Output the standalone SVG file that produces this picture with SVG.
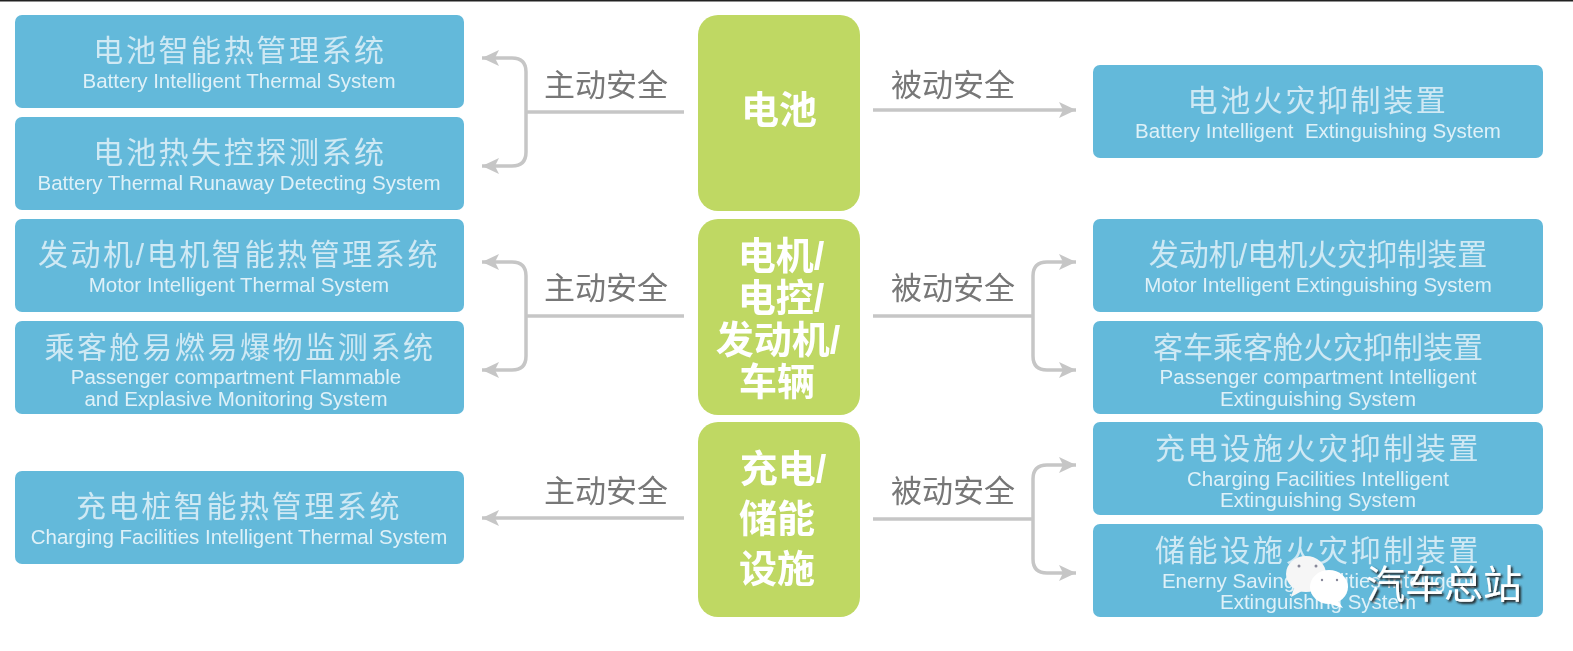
<svg xmlns="http://www.w3.org/2000/svg" width="1573" height="651" viewBox="0 0 1573 651">
<style>
.b{fill:#64b9da}.g{fill:#bfd863}
.l{fill:none;stroke:#c6c6c6;stroke-width:3.5}
text{text-anchor:middle;font-family:"Liberation Sans","Noto Sans CJK SC",sans-serif}
.z{font-size:30px;letter-spacing:2.6px;fill:#cfe9f4}.t{letter-spacing:0}.e{font-size:20.500px;fill:#dff1f8;white-space:pre}
.c{font-size:38px;font-weight:bold;fill:#fff}.a{font-size:31px;fill:#777}
</style>
<defs>
<marker id="m" markerUnits="userSpaceOnUse" markerWidth="18" markerHeight="18" refX="17" refY="9" orient="auto-start-reverse"><path d="M0 1L17 9L0 17L4 9Z" fill="#c6c6c6"/></marker>
<filter id="soft" x="0" y="0" width="100%" height="100%"><feGaussianBlur stdDeviation="0.7"/></filter>
<filter id="sh" x="-10%" y="-20%" width="120%" height="140%"><feDropShadow dx="2" dy="2" stdDeviation="0.8" flood-color="#222"/></filter>
</defs>
<rect width="1573" height="651" fill="#fff"/><rect width="1573" height="1.5" fill="#222"/>
<g filter="url(#soft)">
<g id="n1"><rect class="b" x="15" y="15" width="449" height="93" rx="7"/><text class="z" x="240" y="61">电池智能热管理系统</text><text class="e" x="239" y="88">Battery Intelligent Thermal System</text></g>
<g id="n2"><rect class="b" x="15" y="117" width="449" height="93" rx="7"/><text class="z" x="240" y="163">电池热失控探测系统</text><text class="e" x="239" y="190">Battery Thermal Runaway Detecting System</text></g>
<g id="n3"><rect class="b" x="15" y="219" width="449" height="93" rx="7"/><text class="z" x="239" y="265">发动机/电机智能热管理系统</text><text class="e" x="239" y="292">Motor Intelligent Thermal System</text></g>
<g id="n4"><rect class="b" x="15" y="321" width="449" height="93" rx="7"/><text class="z" x="240" y="358">乘客舱易燃易爆物监测系统</text><text class="e" x="236" y="384">Passenger compartment Flammable</text><text class="e" x="236" y="406">and Explasive Monitoring System</text></g>
<g id="n5"><rect class="b" x="15" y="471" width="449" height="93" rx="7"/><text class="z" x="239" y="517">充电桩智能热管理系统</text><text class="e" x="239" y="544">Charging Facilities Intelligent Thermal System</text></g>
<g id="c1"><rect class="g" x="698" y="15" width="162" height="196" rx="20"/><text class="c" x="779" y="123">电池</text></g>
<g id="c2"><rect class="g" x="698" y="219" width="162" height="196" rx="20"/><text class="c" x="781" y="269">电机/</text><text class="c" x="781" y="311">电控/</text><text class="c" x="778" y="353">发动机/</text><text class="c" x="777" y="395">车辆</text></g>
<g id="c3"><rect class="g" x="698" y="422" width="162" height="195" rx="20"/><text class="c" x="783" y="482">充电/</text><text class="c" x="777" y="532">储能</text><text class="c" x="777" y="582">设施</text></g>
<g id="r1"><rect class="b" x="1093" y="65" width="450" height="93" rx="7"/><text class="z" x="1318" y="111">电池火灾抑制装置</text><text class="e" x="1318" y="138">Battery Intelligent  Extinguishing System</text></g>
<g id="r2"><rect class="b" x="1093" y="219" width="450" height="93" rx="7"/><text class="z t" x="1318" y="265">发动机/电机火灾抑制装置</text><text class="e" x="1318" y="292">Motor Intelligent Extinguishing System</text></g>
<g id="r3"><rect class="b" x="1093" y="321" width="450" height="93" rx="7"/><text class="z t" x="1318" y="358">客车乘客舱火灾抑制装置</text><text class="e" x="1318" y="384">Passenger compartment Intelligent</text><text class="e" x="1318" y="406">Extinguishing System</text></g>
<g id="r4"><rect class="b" x="1093" y="422" width="450" height="93" rx="7"/><text class="z" x="1318" y="459">充电设施火灾抑制装置</text><text class="e" x="1318" y="486">Charging Facilities Intelligent</text><text class="e" x="1318" y="507">Extinguishing System</text></g>
<g id="r5"><rect class="b" x="1093" y="524" width="450" height="93" rx="7"/><text class="z" x="1318" y="561">储能设施火灾抑制装置</text><text class="e" x="1318" y="588">Enerny Saving Facilities Intelligent</text><text class="e" x="1318" y="609">Extinguishing System</text></g>
<g id="connectors">
<path class="l" d="M684 112H526"/><path class="l" d="M482 58H512Q526 58 526 72V152Q526 166 512 166H482" marker-start="url(#m)" marker-end="url(#m)"/>
<path class="l" d="M684 316H526"/><path class="l" d="M482 262H512Q526 262 526 276V356Q526 370 512 370H482" marker-start="url(#m)" marker-end="url(#m)"/>
<path class="l" d="M684 518H482" marker-end="url(#m)"/>
<path class="l" d="M873 110H1076" marker-end="url(#m)"/>
<path class="l" d="M873 316H1033"/><path class="l" d="M1076 262H1047Q1033 262 1033 276V356Q1033 370 1047 370H1076" marker-start="url(#m)" marker-end="url(#m)"/>
<path class="l" d="M873 519H1033"/><path class="l" d="M1076 465H1047Q1033 465 1033 479V559Q1033 573 1047 573H1076" marker-start="url(#m)" marker-end="url(#m)"/>
</g>
<g id="labels">
<text class="a" x="606" y="96">主动安全</text><text class="a" x="953" y="96">被动安全</text>
<text class="a" x="606" y="299">主动安全</text><text class="a" x="953" y="299">被动安全</text>
<text class="a" x="606" y="502">主动安全</text><text class="a" x="953" y="502">被动安全</text>
</g>
<g id="watermark"><ellipse cx="1306" cy="574" rx="20" ry="18" fill="#f6f6f6"/><path d="M1294 588l-3 9 11-6Z" fill="#f6f6f6"/><ellipse cx="1329" cy="587" rx="19" ry="17" fill="#fff"/><path d="M1338 601l5 7-13-4Z" fill="#fff"/><circle cx="1299" cy="566" r="1.500" fill="#889"/><circle cx="1316" cy="566" r="1.500" fill="#889"/><circle cx="1322" cy="580" r="1.200" fill="#889"/><circle cx="1337" cy="580" r="1.200" fill="#889"/><text x="1444" y="598" filter="url(#sh)" style="font-size:39px;fill:#fff">汽车总站</text></g>
</g>
</svg>
